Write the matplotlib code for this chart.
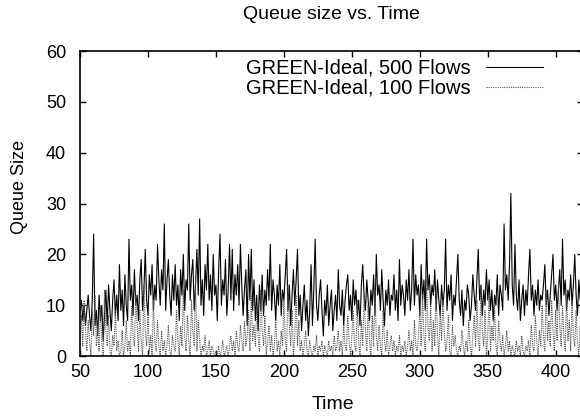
import numpy as np
import matplotlib
matplotlib.use("Agg")
import matplotlib.pyplot as plt

plt.rcParams['font.family'] = ['Liberation Sans', 'DejaVu Sans']

# time axis: one sample per time unit from 50 to 420
time = np.arange(50, 421)

# GREEN-Ideal, 500 Flows
queue_500 = [
    9, 11, 7, 10, 6, 9, 12, 8, 5, 11,
    24, 6, 9, 4, 12, 7, 10, 3, 8, 13,
    6, 14, 9, 5, 11, 15, 8, 12, 7, 18,
    9, 13, 6, 16, 10, 7, 23, 11, 14, 8,
    17, 10, 12, 7, 15, 19, 9, 13, 21, 11,
    8, 16, 12, 18, 9, 14, 11, 22, 15, 10,
    17, 13, 26, 9, 15, 19, 12, 8, 16, 11,
    18, 10, 14, 7, 17, 12, 20, 9, 15, 13,
    26, 11, 16, 19, 9, 14, 21, 12, 27, 10,
    15, 8, 18, 13, 22, 11, 16, 9, 20, 12,
    14, 7, 17, 24, 10, 15, 12, 19, 8, 13,
    22, 11, 21, 9, 16, 12, 18, 10, 22, 14,
    8, 13, 17, 6, 20, 11, 21, 9, 15, 7,
    12, 5, 14, 9, 16, 8, 13, 10, 17, 11,
    22, 9, 15, 12, 7, 14, 10, 18, 8, 13,
    11, 16, 21, 9, 14, 6, 12, 17, 10, 15,
    21, 8, 12, 5, 10, 14, 7, 11, 4, 9,
    18, 6, 13, 23, 10, 7, 12, 15, 9, 4,
    11, 8, 14, 6, 10, 13, 5, 9, 12, 7,
    17, 10, 8, 13, 6, 11, 14, 16, 9, 12,
    7, 15, 10, 13, 8, 11, 6, 14, 18, 12,
    9, 15, 11, 7, 13, 10, 16, 8, 20, 12,
    14, 9, 17, 11, 6, 13, 10, 15, 8, 12,
    11, 16, 9, 13, 7, 19, 10, 14, 12, 8,
    15, 11, 17, 9, 13, 23, 10, 16, 12, 14,
    8, 18, 11, 15, 9, 23, 13, 16, 10, 14,
    12, 17, 9, 15, 11, 8, 14, 10, 13, 23,
    9, 14, 11, 16, 7, 12, 10, 15, 20, 11,
    8, 13, 6, 11, 9, 14, 12, 7, 10, 16,
    12, 9, 15, 21, 11, 14, 8, 13, 10, 17,
    11, 15, 9, 13, 7, 12, 10, 16, 8, 14,
    12, 9, 26, 13, 16, 11, 18, 32, 14, 10,
    22, 12, 9, 15, 7, 11, 14, 8, 13, 10,
    16, 21, 11, 14, 8, 13, 10, 15, 9, 12,
    11, 14, 18, 10, 13, 8, 12, 16, 20, 11,
    14, 9, 13, 17, 10, 23, 12, 15, 9, 13,
    11, 16, 10, 14, 20, 12, 8, 15, 11, 13,
    10,
]

# GREEN-Ideal, 100 Flows
queue_100 = [
    3, 8, 2, 11, 5, 1, 7, 3, 0, 9,
    4, 12, 2, 6, 1, 10, 3, 0, 13, 5,
    2, 8, 1, 0, 4, 2, 9, 1, 3, 0,
    1, 5, 0, 2, 7, 1, 3, 0, 10, 4,
    2, 12, 6, 1, 9, 3, 0, 14, 5, 2,
    8, 1, 4, 0, 11, 3, 1, 7, 2, 0,
    5, 1, 3, 0, 2, 6, 1, 0, 4, 2,
    1, 9, 3, 0, 6, 2, 13, 4, 1, 8,
    3, 0, 11, 5, 2, 15, 1, 7, 3, 0,
    2, 1, 4, 0, 1, 3, 0, 2, 1, 0,
    1, 0, 2, 0, 1, 3, 0, 1, 2, 0,
    2, 4, 1, 3, 0, 5, 2, 1, 6, 3,
    1, 7, 2, 4, 9, 1, 12, 3, 6, 2,
    10, 4, 1, 13, 5, 2, 8, 0, 3, 6,
    1, 4, 0, 2, 7, 1, 3, 0, 5, 2,
    11, 3, 1, 14, 6, 2, 9, 0, 4, 12,
    2, 7, 1, 3, 0, 2, 5, 1, 0, 3,
    1, 0, 2, 1, 4, 0, 2, 1, 3, 0,
    2, 1, 0, 3, 1, 2, 0, 4, 1, 2,
    5, 1, 3, 0, 6, 2, 1, 8, 3, 0,
    4, 9, 2, 1, 11, 3, 0, 7, 2, 12,
    5, 1, 10, 3, 0, 8, 2, 13, 4, 1,
    6, 2, 0, 9, 3, 1, 5, 0, 2, 4,
    1, 3, 0, 2, 1, 4, 0, 2, 1, 3,
    0, 2, 5, 1, 3, 0, 7, 2, 1, 4,
    9, 2, 12, 4, 1, 15, 6, 3, 10, 1,
    7, 2, 13, 4, 0, 9, 3, 11, 5, 1,
    3, 8, 1, 0, 6, 2, 4, 1, 0, 2,
    1, 5, 2, 0, 3, 1, 7, 2, 0, 4,
    8, 2, 11, 3, 1, 14, 5, 2, 9, 0,
    4, 12, 1, 6, 3, 10, 2, 0, 7, 3,
    1, 4, 0, 2, 5, 1, 3, 0, 2, 1,
    0, 3, 1, 2, 0, 4, 1, 0, 2, 1,
    3, 0, 6, 2, 1, 8, 3, 0, 5, 2,
    10, 4, 1, 13, 3, 7, 2, 11, 5, 1,
    9, 3, 14, 6, 2, 10, 4, 1, 12, 3,
    7, 1, 11, 4, 2, 9, 3, 0, 6, 2,
    5,
]

x_ticks = [50, 100, 150, 200, 250, 300, 350, 400]
y_ticks = [0, 10, 20, 30, 40, 50, 60]

fig = plt.figure(figsize=(5.8, 4.16), dpi=100)
ax = fig.add_axes([0.138, 0.144, 0.867, 0.733])

ax.plot(time, queue_500, color='black', linewidth=0.8, label='GREEN-Ideal, 500 Flows')
ax.plot(time, queue_100, color='#555555', linewidth=0.8, linestyle=(0, (1, 1)),
        label='GREEN-Ideal, 100 Flows')

ax.set_xlim(50, 420)
ax.set_ylim(0, 60)
ax.set_xticks(x_ticks)
ax.set_yticks(y_ticks)
ax.tick_params(direction='in', top=True, right=True, length=4, width=1,
               labelsize=13)
ax.tick_params(axis='x', pad=6)
ax.tick_params(axis='y', pad=10)
for sp in ax.spines.values():
    sp.set_linewidth(1.2)

ax.legend(loc='upper right', bbox_to_anchor=(0.92, 0.975), frameon=False,
          markerfirst=False, fontsize=14.5, handlelength=2.8, handletextpad=0.8,
          borderpad=0, borderaxespad=0, labelspacing=0.05)

fig.text(0.571, 0.964, 'Queue size vs. Time', ha='center', va='center', fontsize=14)
fig.text(0.574, 0.027, 'Time', ha='center', va='center', fontsize=14)
fig.text(0.033, 0.55, 'Queue Size', ha='center', va='center', rotation=90, fontsize=13)

plt.savefig('out.png', dpi=100)
